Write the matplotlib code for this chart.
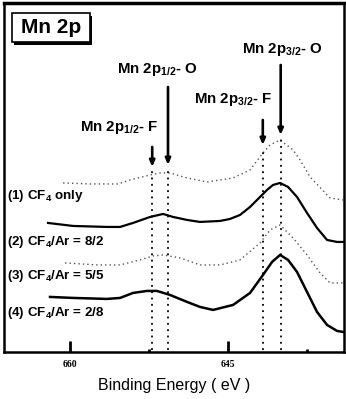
import matplotlib
matplotlib.use("Agg")
import matplotlib.pyplot as plt
from matplotlib.patches import Rectangle

plt.rcParams['font.family'] = ['Liberation Sans', 'DejaVu Sans']
plt.rcParams['mathtext.fontset'] = 'custom'
plt.rcParams['mathtext.rm'] = 'Liberation Sans:bold'
plt.rcParams['mathtext.default'] = 'rm'

# ---- data (binding energy eV, intensity a.u.) ----
be1 = [660.66, 658.10, 655.44, 654.30, 652.40, 651.46, 650.51, 648.89, 646.99, 644.52, 642.91, 641.68, 641.01, 640.06, 638.83, 638.16, 637.21, 635.32, 634.08]
i1 = [169, 168, 168, 172, 177, 179, 179, 174, 170, 174, 182, 199, 207, 212, 202, 192, 175, 154, 152]

be2 = [662.09, 659.72, 656.49, 655.25, 654.02, 652.40, 651.17, 650.22, 648.89, 647.66, 645.76, 644.81, 643.86, 642.91, 641.96, 641.30, 640.73, 640.06, 639.30, 638.45, 637.50, 636.55, 635.60, 634.65, 634.08]
i2 = [129, 126, 125, 125, 129, 135, 138, 135, 132, 130, 131, 133, 137, 145, 155, 162, 167, 169, 165, 155, 139, 124, 112, 110, 110]

be3 = [660.47, 657.44, 655.25, 653.35, 652.12, 651.17, 649.56, 647.66, 645.76, 643.86, 641.96, 641.01, 640.06, 638.83, 637.50, 636.26, 635.32, 634.08]
i3 = [89, 87, 87, 92, 96, 97, 94, 87, 87, 92, 109, 122, 127, 114, 97, 79, 69, 69]

be4 = [661.90, 659.72, 656.49, 655.25, 654.02, 652.69, 651.74, 650.51, 648.89, 647.66, 646.42, 644.52, 642.91, 641.68, 640.82, 640.06, 639.30, 638.45, 637.50, 636.55, 635.60, 634.65, 634.08]
i4 = [55, 54, 53, 54, 59, 61, 61, 57, 50, 45, 42, 47, 59, 77, 90, 97, 92, 80, 60, 40, 27, 21, 20]

curve_labels = ["(1) CF$_4$ only", "(2) CF$_4$/Ar = 8/2", "(3) CF$_4$/Ar = 5/5", "(4) CF$_4$/Ar = 2/8"]
label_y = [156, 110, 76, 39]

peak_names = ["Mn 2p$_{1/2}$- F", "Mn 2p$_{1/2}$- O", "Mn 2p$_{3/2}$- F", "Mn 2p$_{3/2}$- O"]
peak_be = [652.2, 650.7, 641.7, 640.0]
arrow_top = [205, 265, 232, 287]
arrow_tip = [185, 187, 207, 217]
text_be = [655.3, 651.7, 644.5, 639.8]
text_y = [224, 282, 252, 302]

xticks = [660, 645]
minor_ticks = [652.5, 637.5]

fig = plt.figure(figsize=(3.46, 3.99), dpi=100)
ax = fig.add_axes([0.0116, 0.118, 0.9826, 0.8745])
ax.set_xlim(666.27, 633.99)
ax.set_ylim(0, 349)

dot = (0, (1, 2.2))
ax.plot(be1, i1, color='#555555', lw=1.0, ls=dot)
ax.plot(be2, i2, color='black', lw=1.6, solid_joinstyle='round')
ax.plot(be3, i3, color='#555555', lw=1.0, ls=dot)
ax.plot(be4, i4, color='black', lw=1.8, solid_joinstyle='round')

for x, top, tip in zip(peak_be, arrow_top, arrow_tip):
    ax.plot([x, x], [2, tip - 4], color='black', lw=1.3, ls=(0, (1, 2.5)))
    ax.annotate('', xy=(x, tip), xytext=(x, top),
                arrowprops=dict(arrowstyle='-|>,head_width=0.15,head_length=0.35',
                                color='black', lw=1.9, shrinkA=0, shrinkB=0))

for name, x, y in zip(peak_names, text_be, text_y):
    ax.text(x, y, name, ha='center', va='center', fontsize=10.8, fontweight='bold')

for lab, y in zip(curve_labels, label_y):
    ax.text(665.95, y, lab, ha='left', va='center', fontsize=9.6, fontweight='bold')

# Mn 2p box with shadow
ax.add_patch(Rectangle((0.030, 0.881), 0.23, 0.083, transform=ax.transAxes,
                       facecolor='black', edgecolor='none', zorder=4))
ax.add_patch(Rectangle((0.0235, 0.888), 0.23, 0.083, transform=ax.transAxes,
                       facecolor='white', edgecolor='black', lw=1.2, zorder=5))
ax.text(0.138, 0.929, "Mn 2p", transform=ax.transAxes, ha='center', va='center',
        fontsize=15, fontweight='bold', zorder=6)

ax.set_yticks([])
ax.set_xticks(xticks)
ax.set_xticklabels([str(t) for t in xticks], family='Liberation Serif',
                   fontweight='bold', fontsize=7)
ax.set_xticks(minor_ticks, minor=True)
ax.tick_params(axis='x', which='major', direction='in', length=8, width=2, pad=6)
ax.tick_params(axis='x', which='minor', direction='in', length=2.5, width=2)
for s in ax.spines.values():
    s.set_linewidth(1.8)
ax.spines['top'].set_linewidth(2.5)

ax.set_xlabel("Binding Energy ( eV )", fontsize=11.5, labelpad=6)

fig.savefig("out.png", dpi=100)
